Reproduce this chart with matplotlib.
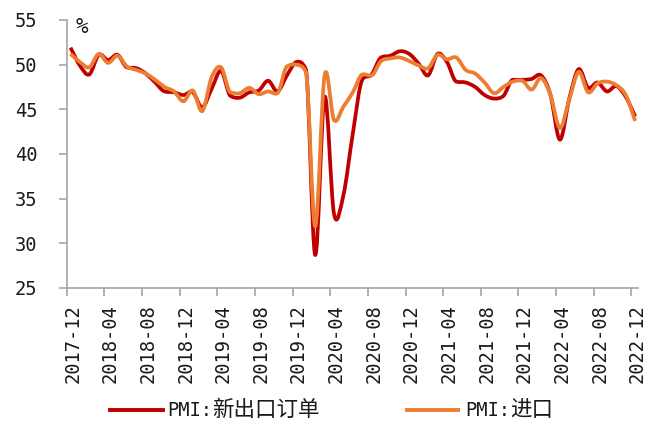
import numpy as np
import pandas as pd
import matplotlib
matplotlib.use("Agg")
import matplotlib.pyplot as plt
from matplotlib.path import Path
from matplotlib.patches import PathPatch
from matplotlib.lines import Line2D
from matplotlib.transforms import ScaledTranslation

# data: monthly, 2017-12 .. 2022-12
start = "2017-12"
n_months = 61
export_orders = [51.9, 49.9, 48.9, 51.1, 50.5, 51.1, 49.7, 49.6, 49.0, 48.0,
                 47.0, 46.9, 46.6, 46.9, 45.2, 47.3, 49.3, 46.5, 46.3, 46.9,
                 47.1, 48.2, 47.0, 48.8, 50.3, 49.5, 28.7, 46.4, 33.3, 35.4,
                 42.3, 48.3, 48.9, 50.8, 51.0, 51.5, 51.2, 50.1, 48.8, 51.2,
                 50.3, 48.1, 48.0, 47.5, 46.6, 46.2, 46.5, 48.3, 48.3, 48.4,
                 48.8, 46.6, 41.6, 46.2, 49.5, 47.4, 48.0, 47.0, 47.6, 46.4,
                 44.2]
imports = [51.2, 50.3, 49.7, 51.2, 50.2, 51.0, 49.8, 49.4, 49.0, 48.3,
           47.5, 47.0, 45.9, 47.1, 44.8, 48.6, 49.7, 46.9, 46.8, 47.4,
           46.7, 47.0, 46.8, 49.8, 50.0, 49.2, 31.9, 48.8, 43.8, 45.3,
           46.9, 48.9, 48.8, 50.4, 50.7, 50.8, 50.4, 49.9, 49.6, 51.1,
           50.6, 50.8, 49.4, 49.0, 48.0, 46.8, 47.5, 48.1, 48.2, 47.2,
           48.5, 46.6, 42.9, 46.1, 49.2, 46.9, 47.9, 48.1, 47.7, 46.6,
           43.7]
labels = ["PMI:新出口订单", "PMI:进口"]
colors = ["#C00000", "#ED7D31"]

months = [str(p) for p in pd.period_range(start, periods=n_months, freq="M")]

plt.rcParams['font.family'] = ['DejaVu Sans Mono', 'Noto Sans CJK SC']

fig = plt.figure(figsize=(6.58, 4.25), dpi=100)
ax = fig.add_axes([0.1014, 0.3224, 0.8682, 0.6306])


def smooth_path(x, y):
    # cubic bezier through every point; catmull-rom tangents, clamped so the
    # curve does not overshoot next to the big drops
    x = np.asarray(x, float)
    y = np.asarray(y, float)
    n = len(x)
    h = np.diff(x)
    d = np.diff(y) / h
    m = np.zeros(n)
    m[0], m[-1] = d[0], d[-1]
    for k in range(1, n - 1):
        lim = 3 * min(abs(d[k - 1]), abs(d[k]))
        m[k] = np.clip((d[k - 1] + d[k]) / 2, -lim, lim)
    verts = [(x[0], y[0])]
    codes = [Path.MOVETO]
    for k in range(n - 1):
        verts += [(x[k] + h[k] / 3, y[k] + m[k] * h[k] / 3),
                  (x[k + 1] - h[k] / 3, y[k + 1] - m[k + 1] * h[k] / 3),
                  (x[k + 1], y[k + 1])]
        codes += [Path.CURVE4] * 3
    return Path(verts, codes)


xpos = np.arange(n_months) + 0.4
for vals, c in zip([export_orders, imports], colors):
    ax.add_patch(PathPatch(smooth_path(xpos, vals), facecolor='none', edgecolor=c,
                           lw=2.7, capstyle='butt', joinstyle='round'))

ax.set_xlim(0, 60.7)
ax.set_ylim(25, 55)
ax.set_yticks(range(25, 56, 5))
ax.set_xticks(range(0, n_months, 4))
ax.set_xticklabels(months[::4], rotation=90, va='top', ha='center')

for s in ['top', 'right']:
    ax.spines[s].set_visible(False)
for s in ['left', 'bottom']:
    ax.spines[s].set_color('#A6A6A6')
    ax.spines[s].set_linewidth(1.2)
ax.tick_params(axis='y', length=6, width=1.2, color='#A6A6A6', pad=15,
               labelsize=13.5, labelcolor='#1a1a1a')
ax.tick_params(axis='x', length=6, width=1.2, color='#A6A6A6', pad=6,
               labelsize=13.5, labelcolor='#1a1a1a')
off = ScaledTranslation(6 / 100, 0, fig.dpi_scale_trans)
for t in ax.get_xticklabels():
    t.set_transform(t.get_transform() + off)

ax.text(0.016, 0.975, "%", transform=ax.transAxes, fontsize=15,
        va='center', ha='left', color='#1a1a1a')

# legend, built by hand
W, H = 658.0, 425.0
ly = 1 - 410 / H
for (x0, x1, tx), lab, c in zip([(110, 163, 167), (407, 458, 465)], labels, colors):
    fig.add_artist(Line2D([x0 / W, x1 / W], [ly, ly], color=c, lw=2.8,
                          transform=fig.transFigure))
    head, tail = lab.split(":")
    t1 = fig.text(tx / W, ly, head + ":", fontsize=13.5, va='center', ha='left',
                  color='#1a1a1a')
    fig.canvas.draw()
    bb = t1.get_window_extent()
    fig.text(bb.x1 / W, ly, tail, fontsize=15.5, va='center', ha='left',
             family='Noto Sans CJK SC', color='#1a1a1a')

fig.savefig("out.png", dpi=100)
